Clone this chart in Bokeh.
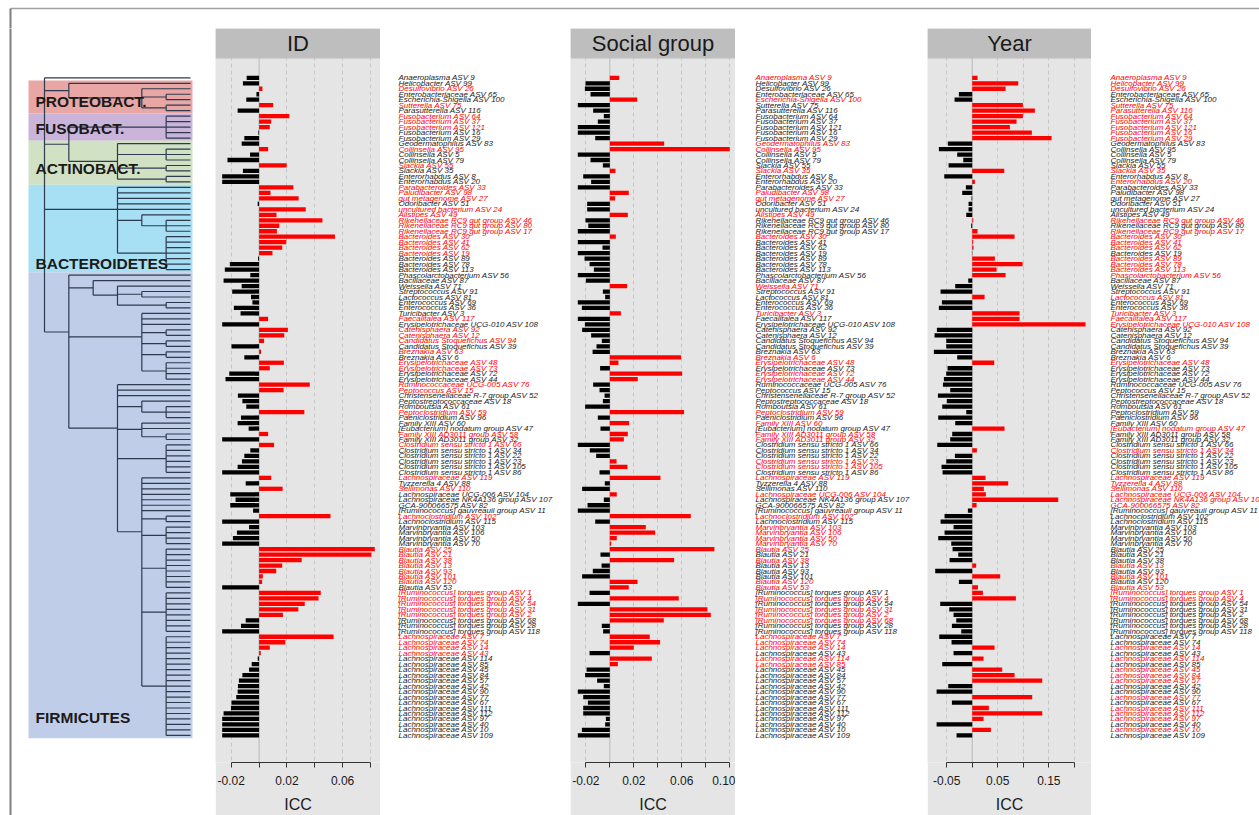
from bokeh.plotting import figure
from bokeh.layouts import row, column
from bokeh.models import Range1d, FixedTicker, Span, BoxAnnotation, Label, ColumnDataSource
from bokeh.core.properties import value
from bokeh.embed import file_html
from bokeh.resources import INLINE

# ---------------- data ----------------
taxa = [
    "Anaeroplasma ASV 9", "Helicobacter ASV 99", "Desulfovibrio ASV 26", "Enterobacteriaceae ASV 65", "Escherichia-Shigella ASV 100",
    "Sutterella ASV 75", "Parasutterella ASV 116", "Fusobacterium ASV 64", "Fusobacterium ASV 37", "Fusobacterium ASV 121",
    "Fusobacterium ASV 16", "Fusobacterium ASV 29", "Geodermatophilus ASV 83", "Collinsella ASV 95", "Collinsella ASV 5",
    "Collinsella ASV 79", "Slackia ASV 55", "Slackia ASV 35", "Enterorhabdus ASV 8", "Enterorhabdus ASV 20",
    "Parabacteroides ASV 33", "Paludibacter ASV 98", "gut metagenome ASV 27", "Odoribacter ASV 51", "uncultured bacterium ASV 24",
    "Alistipes ASV 49", "Rikenellaceae RC9 gut group ASV 46", "Rikenellaceae RC9 gut group ASV 80", "Rikenellaceae RC9 gut group ASV 17", "Bacteroides ASV 30",
    "Bacteroides ASV 41", "Bacteroides ASV 62", "Bacteroides ASV 19", "Bacteroides ASV 89", "Bacteroides ASV 78",
    "Bacteroides ASV 113", "Phascolarctobacterium ASV 56", "Bacillaceae ASV 87", "Weissella ASV 71", "Streptococcus ASV 91",
    "Lactococcus ASV 81", "Enterococcus ASV 69", "Enterococcus ASV 36", "Turicibacter ASV 3", "Faecalitalea ASV 117",
    "Erysipelotrichaceae UCG-010 ASV 108", "Catenisphaera ASV 92", "Catenisphaera ASV 12", "Candidatus Stoquefichus ASV 94", "Candidatus Stoquefichus ASV 39",
    "Breznakia ASV 63", "Breznakia ASV 6", "Erysipelotrichaceae ASV 48", "Erysipelotrichaceae ASV 73", "Erysipelotrichaceae ASV 72",
    "Erysipelotrichaceae ASV 44", "Ruminococcaceae UCG-005 ASV 76", "Peptococcus ASV 15", "Christensenellaceae R-7 group ASV 52", "Peptostreptococcaceae ASV 18",
    "Romboutsia ASV 61", "Peptoclostridium ASV 59", "Paeniclostridium ASV 96", "Family XIII ASV 60", "[Eubacterium] nodatum group ASV 47",
    "Family XIII AD3011 group ASV 58", "Family XIII AD3011 group ASV 32", "Clostridium sensu stricto 1 ASV 66", "Clostridium sensu stricto 1 ASV 34", "Clostridium sensu stricto 1 ASV 22",
    "Clostridium sensu stricto 1 ASV 23", "Clostridium sensu stricto 1 ASV 105", "Clostridium sensu stricto 1 ASV 86", "Lachnospiraceae ASV 119", "Tyzzerella 4 ASV 88",
    "Sellimonas ASV 110", "Lachnospiraceae UCG-006 ASV 104", "Lachnospiraceae NK4A136 group ASV 107", "GCA-900066575 ASV 82", "[Ruminococcus] gauvreauii group ASV 11",
    "Lachnoclostridium ASV 102", "Lachnoclostridium ASV 115", "Marvinbryantia ASV 103", "Marvinbryantia ASV 106", "Marvinbryantia ASV 50",
    "Marvinbryantia ASV 70", "Blautia ASV 25", "Blautia ASV 21", "Blautia ASV 38", "Blautia ASV 13",
    "Blautia ASV 93", "Blautia ASV 101", "Blautia ASV 120", "Blautia ASV 53", "[Ruminococcus] torques group ASV 1",
    "[Ruminococcus] torques group ASV 4", "[Ruminococcus] torques group ASV 54", "[Ruminococcus] torques group ASV 31", "[Ruminococcus] torques group ASV 2", "[Ruminococcus] torques group ASV 68",
    "[Ruminococcus] torques group ASV 28", "[Ruminococcus] torques group ASV 118", "Lachnospiraceae ASV 7", "Lachnospiraceae ASV 74", "Lachnospiraceae ASV 14",
    "Lachnospiraceae ASV 43", "Lachnospiraceae ASV 114", "Lachnospiraceae ASV 85", "Lachnospiraceae ASV 45", "Lachnospiraceae ASV 84",
    "Lachnospiraceae ASV 57", "Lachnospiraceae ASV 42", "Lachnospiraceae ASV 90", "Lachnospiraceae ASV 77", "Lachnospiraceae ASV 67",
    "Lachnospiraceae ASV 111", "Lachnospiraceae ASV 112", "Lachnospiraceae ASV 97", "Lachnospiraceae ASV 40", "Lachnospiraceae ASV 10",
    "Lachnospiraceae ASV 109",
]

icc_id = [
    -0.0089, -0.0116, 0.0024, -0.0019, -0.0092, 0.0101, -0.0154, 0.0217, 0.0087, 0.0077,
    -0.0005, -0.0106, -0.0125, 0.0065, -0.0065, -0.0227, 0.0198, -0.0116, -0.0265, -0.0265,
    0.0246, 0.0082, 0.0284, -0.0010, 0.0335, 0.0125, 0.0455, 0.0145, 0.0128, 0.0545,
    0.0195, 0.0166, 0.0096, -0.0007, -0.0210, -0.0246, -0.0063, -0.0255, -0.0125, -0.0193,
    -0.0058, -0.0048, -0.0181, -0.0133, 0.0065, -0.0265, 0.0207, 0.0181, 0.0036, -0.0198,
    0.0014, -0.0106, 0.0178, 0.0077, -0.0214, -0.0241, 0.0364, 0.0176, -0.0152, -0.0120,
    -0.0092, 0.0325, -0.0130, -0.0154, -0.0075, 0.0065, -0.0265, 0.0108, -0.0063, -0.0106,
    -0.0123, -0.0154, -0.0265, 0.0087, -0.0096, 0.0169, -0.0207, -0.0169, -0.0207, -0.0043,
    0.0513, -0.0265, -0.0072, -0.0159, -0.0188, -0.0265, 0.0831, 0.0807, 0.0306, 0.0166,
    0.0123, 0.0027, 0.0022, -0.0265, 0.0443, 0.0427, 0.0328, 0.0282, 0.0171, -0.0096,
    -0.0130, -0.0265, 0.0535, 0.0188, 0.0077, 0.0012, -0.0010, -0.0053, -0.0072, -0.0120,
    -0.0145, -0.0152, -0.0154, -0.0164, -0.0198, -0.0202, -0.0255, -0.0265, -0.0265, -0.0265,
    -0.0265,
]

icc_social = [
    0.0078, -0.0203, -0.0208, -0.0161, 0.0228, -0.0267, -0.0139, -0.0050, -0.0100, -0.0267,
    -0.0267, -0.0122, 0.0453, 0.1000, -0.0267, -0.0161, -0.0058, 0.0047, -0.0222, -0.0156,
    -0.0267, 0.0158, 0.0044, -0.0189, -0.0189, 0.0150, -0.0203, -0.0180, -0.0267, 0.0050,
    -0.0267, -0.0061, -0.0267, -0.0211, -0.0169, -0.0133, -0.0267, -0.0200, 0.0144, -0.0058,
    -0.0039, -0.0267, -0.0233, 0.0092, -0.0267, -0.0208, -0.0231, -0.0156, -0.0067, -0.0111,
    -0.0144, 0.0594, 0.0072, -0.0081, 0.0603, 0.0233, -0.0139, -0.0086, -0.0044, -0.0058,
    -0.0206, 0.0619, -0.0100, 0.0161, -0.0078, 0.0150, 0.0117, -0.0267, -0.0167, -0.0114,
    0.0056, 0.0147, -0.0086, 0.0422, -0.0042, -0.0231, 0.0058, -0.0050, -0.0186, -0.0267,
    0.0675, -0.0122, 0.0300, 0.0378, 0.0058, 0.0011, 0.0872, -0.0078, 0.0536, -0.0069,
    -0.0142, -0.0231, 0.0231, 0.0158, -0.0169, 0.0575, -0.0267, 0.0814, 0.0842, 0.0450,
    -0.0067, -0.0056, 0.0333, 0.0419, 0.0200, -0.0169, 0.0350, 0.0067, -0.0194, -0.0206,
    -0.0106, -0.0050, -0.0267, -0.0222, -0.0183, -0.0222, -0.0222, -0.0033, -0.0039, -0.0233,
    -0.0267,
]

icc_year = [
    0.0104, 0.0901, 0.0653, -0.0261, -0.0346, 0.0992, 0.1227, 0.0992, 0.0868, 0.0738,
    0.1168, 0.1554, -0.0477, -0.0653, -0.0294, -0.0176, -0.0463, 0.0627, -0.0548, 0.0052,
    -0.0124, -0.0196, -0.0013, -0.0072, -0.0072, -0.0117, 0.0020, -0.0020, 0.0104, 0.0829,
    0.0020, 0.0026, -0.0005, 0.0444, 0.0986, 0.0477, 0.0653, -0.0078, -0.0333, -0.0620,
    0.0242, -0.0594, -0.0653, 0.0927, 0.0927, 0.2219, -0.0692, -0.0738, -0.0509, -0.0509,
    -0.0751, -0.0294, 0.0431, -0.0483, -0.0509, -0.0555, -0.0574, -0.0431, -0.0672, -0.0496,
    -0.0587, -0.0117, -0.0666, -0.0333, 0.0633, -0.0392, -0.0431, -0.0685, 0.0091, -0.0339,
    -0.0509, -0.0601, -0.0581, 0.0261, 0.0705, 0.0228, 0.0268, 0.1684, 0.0085, -0.0085,
    -0.0542, -0.0620, -0.0366, -0.0542, -0.0666, -0.0411, -0.0385, -0.0274, -0.0444, 0.0078,
    -0.0725, 0.0548, -0.0261, 0.0111, 0.0209, 0.0855, -0.0627, -0.0450, -0.0366, -0.0313,
    -0.0398, -0.0215, -0.0646, -0.0405, 0.0437, -0.0366, 0.0222, -0.0587, 0.0587, 0.0829,
    0.1371, -0.0470, -0.0698, 0.1175, -0.0398, 0.0326, 0.1371, 0.0222, -0.0698, 0.0366,
    -0.0307,
]

panel_titles = ["ID", "Social group", "Year"]
id_ticks = [-0.02, 0.0, 0.02, 0.04, 0.06, 0.08]
id_tick_labels = ["-0.02", "", "0.02", "", "0.06", ""]
social_ticks = [-0.02, 0.0, 0.02, 0.04, 0.06, 0.08, 0.1]
social_tick_labels = ["-0.02", "", "0.02", "", "0.06", "", "0.10"]
year_ticks = [-0.05, 0.0, 0.05, 0.1, 0.15, 0.2]
year_tick_labels = ["-0.05", "", "0.05", "", "0.15", ""]

phyla = ["PROTEOBACT.", "FUSOBACT.", "ACTINOBACT.", "BACTEROIDETES", "FIRMICUTES"]
phylum_first = [1, 7, 12, 20, 36]
phylum_last = [6, 11, 19, 35, 120]
phylum_colors = ["#E8A6A4", "#CBB4DA", "#D0E2C3", "#A7DFF4", "#BFCDE8"]
phylum_label_rows = [4.3, 9.25, 16.55, 33.9, 116.7]

# tree topology: (level, [children]); ints are leaf rows
tree = (0, [
    0,
    (1, [1, (4, [2, (5, [3, 4]), (5, [5, 6])])]),
    (1, [(5, [7, 8, 9, 10, 11]),
         (3, [12, (5, [13, 14, 15]), (5, [16, 17]), (5, [18, 19])])]),
    (3, [20, 21, 22, 23, 24, (4, [25, (5, [26, 27, 28])]), (5, [29, 30, 31, 32, 33, 34, 35])]),
    (1, [36,
         (2, [37, (3, [38, (4, [39, 40]), (5, [41, 42])])]),
         (4, [43, 44, 45, (5, [46, 47]), (5, [48, 49]), (5, [50, 51]), (5, [52, 53, 54, 55])]),
         (3, [56, 57, 58,
              (4, [59, (5, [60, 61, 62])]),
              (4, [63, 64, (5, [65, 66])]),
              (5, [67, 68, 69, 70, 71, 72]),
              (4, [73, 74, 75, 76, 77, 78, 79,
                   (5, [80, 81]),
                   (5, [82, 83, 84, 85]),
                   (5, [86, 87, 88, 89, 90, 91, 92, 93]),
                   (5, [94, 95, 96, 97, 98, 99, 100, 101]),
                   (5, [102, 103, 104, 105, 106, 107, 108, 109, 110, 111, 112, 113, 114, 115, 116, 117, 118, 119, 120])])])])
])

# ---------------- layout constants ----------------
W = 1259
H = 815
HDR_TOP = 28
AXIS_PX = 762
ROW0_PX = 77.3
ROW_PX = 5.48
RED = "#FF0000"
BLACK = "#000000"
BORDER_X = 10
BORDER_Y = 8
n = len(taxa)
rows = list(range(n))


def row_at(px):
    return (px - ROW0_PX) / ROW_PX


Y_TOP = row_at(HDR_TOP)
Y_HDR = row_at(58)
Y_BOT = row_at(AXIS_PX)

# top strip spanning the whole page (frame border)
top = figure(width=W, height=HDR_TOP, x_range=Range1d(0, W), y_range=Range1d(HDR_TOP, 0),
             toolbar_location=None, output_backend="svg", min_border=0,
             x_axis_location=None, y_axis_location=None)
top.grid.visible = False
top.outline_line_color = None
top.line([BORDER_X, W + 2], [BORDER_Y, BORDER_Y], line_color="#A0A0A0", line_width=1.5)
top.line([BORDER_X, BORDER_X], [BORDER_Y, HDR_TOP + 2], line_color="#7F7F7F", line_width=2)


def panel(title, vals, xr, ticks, tick_labels, w):
    p = figure(width=w, height=H - HDR_TOP, x_range=Range1d(*xr), y_range=Range1d(Y_BOT, Y_TOP),
               toolbar_location=None, output_backend="svg",
               min_border_left=0, min_border_right=0, min_border_top=0,
               min_border_bottom=H - AXIS_PX, y_axis_location=None)
    p.background_fill_color = "#E5E5E5"
    p.border_fill_color = "#E5E5E5"
    p.outline_line_color = None
    p.ygrid.visible = False
    p.xgrid.ticker = FixedTicker(ticks=[t for t in ticks if t != 0])
    p.xgrid.grid_line_color = "#C6C6C6"
    p.xgrid.grid_line_dash = "4 3"
    p.xgrid.grid_line_width = 1
    p.add_layout(Span(location=0, dimension="height", line_color="#B8B8B8", line_width=1, level="underlay"))
    src = ColumnDataSource(dict(y=rows, right=vals, color=[RED if v > 0 else BLACK for v in vals]))
    p.hbar(y="y", left=0, right="right", height=0.78, fill_color="color", line_color=None, source=src)
    p.add_layout(BoxAnnotation(top=Y_TOP, bottom=Y_HDR, fill_color="#BEBEBE", fill_alpha=1, line_color=None))
    p.add_layout(Label(x=(xr[0] + xr[1]) / 2, y=(Y_TOP + Y_HDR) / 2, text=title, text_align="center",
                       text_baseline="middle", text_font_size="22px", text_font="Liberation Sans",
                       text_color="#1A1A1A"))
    ax = p.xaxis[0]
    ax.ticker = FixedTicker(ticks=ticks)
    ax.major_label_overrides = {t: l for t, l in zip(ticks, tick_labels)}
    ax.bounds = (min(ticks), max(ticks))
    ax.axis_line_color = "#333333"
    ax.major_tick_line_color = "#333333"
    ax.major_tick_out = 5
    ax.major_tick_in = 0
    ax.minor_tick_out = 0
    ax.minor_tick_in = 0
    ax.major_label_text_font = "Liberation Sans"
    ax.major_label_text_font_size = "12px"
    ax.major_label_text_color = "#1A1A1A"
    ax.major_label_standoff = 8
    ax.axis_label = "ICC"
    ax.axis_label_text_font = "Liberation Sans"
    ax.axis_label_text_font_size = "16px"
    ax.axis_label_text_font_style = "normal"
    ax.axis_label_text_color = "#1A1A1A"
    ax.axis_label_standoff = 8
    return p


def label_fig(vals, w, x0):
    f = figure(width=w, height=H - HDR_TOP, x_range=Range1d(0, w), y_range=Range1d(Y_BOT, Y_TOP),
               toolbar_location=None, output_backend="svg", min_border=0,
               min_border_bottom=H - AXIS_PX, x_axis_location=None, y_axis_location=None)
    f.grid.visible = False
    f.outline_line_color = None
    src = ColumnDataSource(dict(x=[x0] * n, y=rows, t=taxa,
                                c=[RED if v > 0 else "#1A1A1A" for v in vals]))
    f.text(x="x", y="y", text="t", text_color="c", text_font=value("Liberation Sans"),
           text_font_style="italic", text_font_size="8px", text_baseline="middle",
           text_align="left", source=src)
    return f


# ---------------- tree figure ----------------
T_X0 = 44.0
T_LVL = 24.33
TIP = 6


def lvl_at(px):
    return (px - T_X0) / T_LVL


sx0, sy0, sx1, sy1 = [], [], [], []


def walk(node):
    if isinstance(node, int):
        return TIP, float(node)
    lvl, kids = node
    pts = [walk(k) for k in kids]
    ys = [pt[1] for pt in pts]
    for cx, cy in pts:
        sx0.append(lvl); sy0.append(cy); sx1.append(cx); sy1.append(cy)
    sx0.append(lvl); sy0.append(min(ys)); sx1.append(lvl); sy1.append(max(ys))
    return lvl, sum(ys) / len(ys)


walk(tree)

tf = figure(width=215, height=H - HDR_TOP, x_range=Range1d(lvl_at(0), lvl_at(215)),
            y_range=Range1d(row_at(H), row_at(HDR_TOP)), toolbar_location=None, output_backend="svg",
            min_border=0, x_axis_location=None, y_axis_location=None)
tf.grid.visible = False
tf.outline_line_color = None
tf.quad(left=lvl_at(28), right=lvl_at(192), top=[a - 0.5 for a in phylum_first],
        bottom=[b + 0.5 for b in phylum_last], fill_color=phylum_colors, line_color=None)
tf.segment(x0=sx0, y0=sy0, x1=sx1, y1=sy1, line_color="#2F3A4F", line_width=1.2)
tf.text(x=[lvl_at(35)] * len(phyla), y=phylum_label_rows, text=phyla, text_font=value("Liberation Sans"),
        text_font_style="bold", text_font_size="15.5px", text_baseline="middle", text_align="left",
        text_color="#1A1A1A")
tf.segment(x0=[lvl_at(BORDER_X)], y0=[row_at(HDR_TOP - 2)], x1=[lvl_at(BORDER_X)], y1=[row_at(H + 2)],
           line_color="#7F7F7F", line_width=2)

# ---------------- panels ----------------
p_id = panel(panel_titles[0], icc_id, (-0.0313, 0.0872), id_ticks, id_tick_labels, 165)
p_sg = panel(panel_titles[1], icc_social, (-0.0328, 0.1048), social_ticks, social_tick_labels, 165)
p_yr = panel(panel_titles[2], icc_year, (-0.0876, 0.2336), year_ticks, year_tick_labels, 164)

l_id = label_fig(icc_id, 190, 18)
l_sg = label_fig(icc_social, 192, 20)
l_yr = label_fig(icc_year, 168, 19)

layout = column(top, row(column(tf), p_id, l_id, p_sg, l_sg, p_yr, l_yr))

open("out.html", "w").write(file_html(layout, INLINE))
